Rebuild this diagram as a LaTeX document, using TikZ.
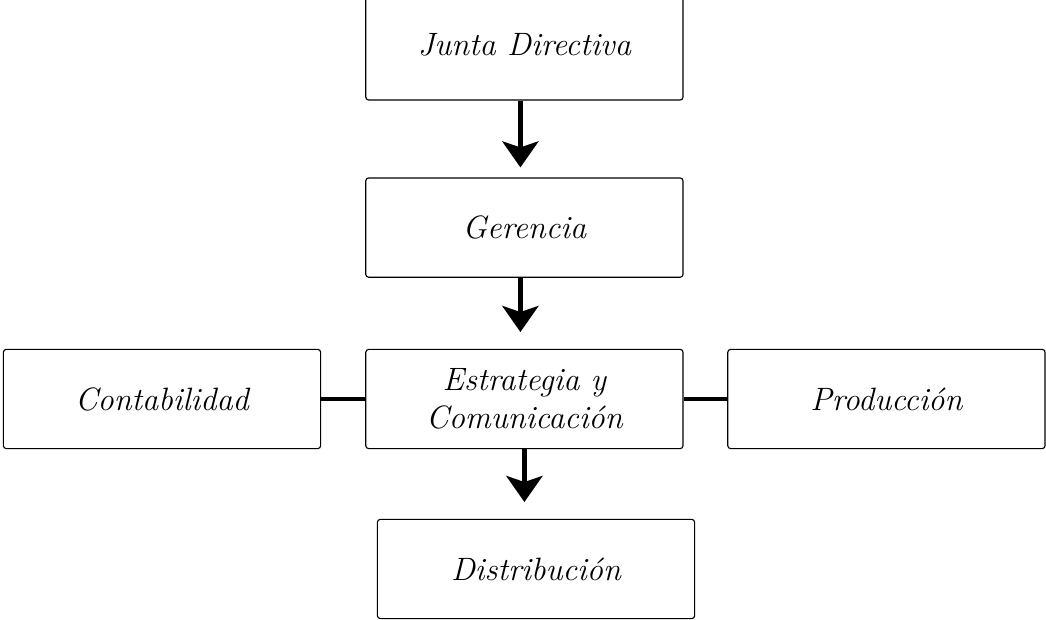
\documentclass[tikz,border=0pt]{standalone}
\usepackage{fontspec}
\usetikzlibrary{arrows.meta, positioning}

\begin{document}
\begin{tikzpicture}[
  every node/.style={align=center},
  % Boxes (areas) - plain white, thin rounded border
  box/.style={rectangle, draw=black, line width=0.8pt, rounded corners=2pt, minimum width=7.93cm, minimum height=2.48cm, font=\itshape\fontsize{23}{27}\selectfont},
  % Arrows (hierarchy) - heavy shaft, wide head
  arrow/.style={-{Stealth[length=6.5mm, width=9mm, inset=1.5mm]}, line width=3.8pt, draw=black},
  % Links (same level) - thick plain line
  link/.style={line width=2.5pt, draw=black}
]

\clip (0,0) rectangle (26.15,15.5);
\useasboundingbox (0,0) rectangle (26.15,15.5);

% === NODES (Areas) ===

% Junta Directiva
\node[box, minimum height=2.75cm] (junta) at (13.11, 14.375) {Junta Directiva};

% Gerencia
\node[box] (gerencia) at (13.11, 9.81) {Gerencia};

% Estrategia y Comunicacion
\node[box] (estrategia) at (13.11, 5.525) {Estrategia y\\Comunicación};

% Contabilidad
\node[box] (contab) at (4.05, 5.525) {Contabilidad};

% Produccion
\node[box] (produccion) at (22.16, 5.525) {Producción};

% Distribucion
\node[box] (distrib) at (13.4, 1.275) {Distribución};

% === CONNECTORS ===

% Junta -> Gerencia
\draw[arrow, shorten >=0.25cm] ([xshift=-0.1cm]junta.south) -- ([xshift=-0.1cm]gerencia.north);

% Gerencia -> Estrategia
\draw[arrow, shorten >=0.42cm] ([xshift=-0.1cm]gerencia.south) -- ([xshift=-0.1cm]estrategia.north);

% Estrategia -> Distribucion
\draw[arrow, shorten >=0.42cm] (estrategia.south) -- (estrategia.south |- distrib.north);

% Side links
\draw[link] (contab.east) -- (estrategia.west);
\draw[link] (estrategia.east) -- (produccion.west);

\end{tikzpicture}
\end{document}
